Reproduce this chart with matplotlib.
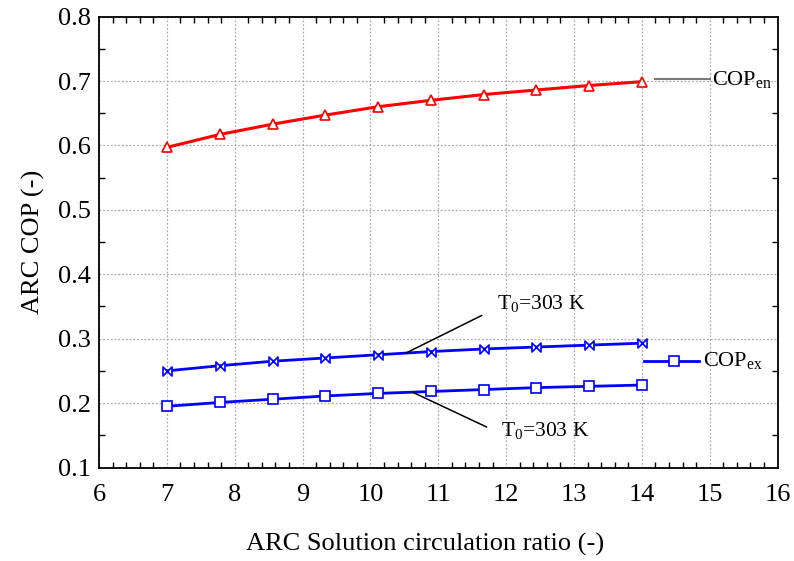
import matplotlib
matplotlib.use("Agg")
import matplotlib.pyplot as plt
import numpy as np
from matplotlib.path import Path
from matplotlib.ticker import MultipleLocator

plt.rcParams['font.family'] = ['Liberation Serif', 'DejaVu Serif']
plt.rcParams['mathtext.fontset'] = 'custom'
plt.rcParams['mathtext.rm'] = 'Liberation Serif'
plt.rcParams['mathtext.it'] = 'Liberation Serif:italic'

# Data
ratio = [7.0, 7.78, 8.56, 9.33, 10.11, 10.89, 11.67, 12.44, 13.22, 14.0]
cop_en = [0.597, 0.617, 0.633, 0.647, 0.660, 0.670, 0.679, 0.686, 0.693, 0.699]
cop_ex_upper = [0.250, 0.258, 0.265, 0.270, 0.275, 0.280, 0.284, 0.287, 0.290, 0.293]
cop_ex_lower = [0.195, 0.201, 0.206, 0.211, 0.215, 0.218, 0.221, 0.224, 0.226, 0.228]

bowtie = Path([(-1, -1), (1, 1), (1, -1), (-1, 1), (-1, -1)],
              [Path.MOVETO, Path.LINETO, Path.LINETO, Path.LINETO, Path.CLOSEPOLY])

fig = plt.figure(figsize=(7.94, 5.61), dpi=100)
ax = fig.add_axes([99/794, 1-467.5/561, (777.5-99)/794, (467.5-16.6)/561])

ax.plot(ratio, cop_en, color='#ff0000', lw=2.2, marker='^', ms=7,
        mfc='white', mec='#ff0000', mew=1.2, zorder=3)
ax.plot(ratio, cop_ex_upper, color='#0000ff', lw=2.0, marker=bowtie, ms=6.5,
        mfc='white', mec='#0000ff', mew=1.2, zorder=3)
ax.plot(ratio, cop_ex_lower, color='#0000ff', lw=2.0, marker='s', ms=6.5,
        mfc='white', mec='#0000ff', mew=1.2, zorder=3)

ax.set_xlim(6, 16)
ax.set_ylim(0.1, 0.8)
ax.xaxis.set_major_locator(MultipleLocator(1))
ax.xaxis.set_minor_locator(MultipleLocator(0.2))
ax.yaxis.set_major_locator(MultipleLocator(0.1))
ax.yaxis.set_minor_locator(MultipleLocator(0.05))
ax.set_yticks(np.round(np.arange(0.1, 0.81, 0.1), 2))
ax.set_yticklabels([f"{v:.1f}" for v in np.arange(0.1, 0.81, 0.1)])

ax.tick_params(which='both', direction='in', top=True, right=True)
ax.tick_params(which='major', length=0, labelsize=19, pad=6)
ax.tick_params(which='minor', length=4.5, width=1.0)
ax.tick_params(axis='x', which='major', pad=12)
for s in ax.spines.values():
    s.set_linewidth(1.3)

ax.grid(True, which='major', linestyle=(0, (1.5, 1.5)), color='#aaaaaa', lw=0.9)
ax.set_axisbelow(True)

ax.set_xlabel('ARC Solution circulation ratio (-)', fontsize=19)
ax.set_ylabel('ARC COP (-)', fontsize=19)
ax.xaxis.set_label_coords((425-99)/(777.5-99), -0.146)
ax.yaxis.set_label_coords(-0.08, 0.5)

# Annotations
ax.plot([10.53, 11.64], [0.278, 0.336], color='black', lw=1.1, zorder=4)
ax.text(11.86, 0.354, r'T$_0$=303 K', fontsize=15.5, va='center', ha='left')
ax.plot([10.63, 11.71], [0.2165, 0.163], color='black', lw=1.1, zorder=4)
ax.text(11.92, 0.157, r'T$_0$=303 K', fontsize=15.5, va='center', ha='left')

ax.plot([14.20, 15.01], [0.703, 0.703], color='#777777', lw=1.5, clip_on=False)
ax.text(15.04, 0.703, r'COP$_{\rm en}$', fontsize=16, va='center', ha='left')

ax.plot([14.03, 14.85], [0.266, 0.266], color='#0000ff', lw=2.0, clip_on=False)
ax.plot([14.47], [0.266], color='#0000ff', marker='s', ms=6.5, mfc='white',
        mec='#0000ff', mew=1.2, clip_on=False)
ax.text(14.90, 0.266, r'COP$_{\rm ex}$', fontsize=16, va='center', ha='left')

fig.savefig('out.png', dpi=100)
